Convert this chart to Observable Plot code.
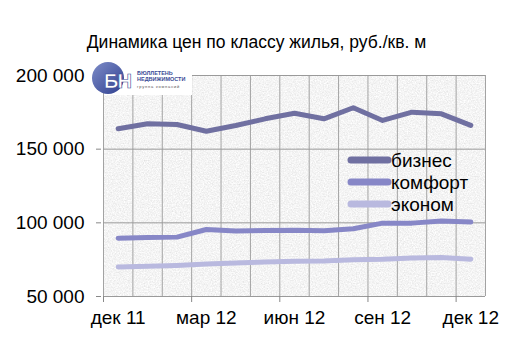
<!DOCTYPE html>
<html>
<head>
<meta charset="utf-8">
<script src="https://cdn.jsdelivr.net/npm/d3@7"></script>
<script src="https://cdn.jsdelivr.net/npm/@observablehq/plot@0.6"></script>
<style>
  html, body { margin: 0; padding: 0; background: #fff; }
  svg { display: block; }
</style>
</head>
<body>
<div id="chart"></div>
<script>
const title = "Динамика цен по классу жилья, руб./кв. м";
const months = ["дек 11","янв 12","фев 12","мар 12","апр 12","май 12","июн 12","июл 12","авг 12","сен 12","окт 12","ноя 12","дек 12"];
const labelledMonths = [0, 3, 6, 9, 12];
const seriesNames = ["бизнес", "комфорт", "эконом"];
const biznes  = [163800,167200,166700,162200,166100,170600,174400,170600,178100,169500,175100,174000,166100];
const komfort = [89600,90100,90300,95500,94400,94800,95000,94600,96000,99800,99800,101200,100500];
const ekonom  = [70000,70600,71100,72000,72700,73400,73900,74100,75000,75300,76200,76400,75300];
const yTicks = [50000, 100000, 150000, 200000];
const colors = ["#7070a1", "#8787c7", "#b9b9df"];

const seriesValues = [biznes, komfort, ekonom];
const data = seriesNames.flatMap((s, k) => seriesValues[k].map((v, i) => ({series: s, i, v})));
const bounds = months.map((_, i) => i - 0.5).concat([months.length - 0.5]);
const tickBounds = labelledMonths.map(i => i - 0.5);
const fmt = d => d3.format(",")(d).replace(/,/g, " ");
const font = "Liberation Sans, Arial, sans-serif";

const plot = Plot.plot({
  width: 510,
  height: 361,
  marginLeft: 103,
  marginRight: 25,
  marginTop: 75,
  marginBottom: 65,
  style: {fontFamily: font, color: "#000", background: "#fff"},
  x: {type: "linear", domain: [-0.5, months.length - 0.5]},
  y: {domain: [50000, 200000]},
  color: {domain: seriesNames, range: colors},
  marks: [
    Plot.frame({fill: "#e6e6e6", stroke: null}),
    Plot.gridX(bounds, {stroke: "#a3a3a3", strokeOpacity: 1}),
    Plot.gridY(yTicks, {stroke: "#9a9a9a", strokeOpacity: 1}),
    Plot.axisY({ticks: yTicks, tickSize: 5, tickPadding: 12, fontSize: 19, tickFormat: fmt, label: null, stroke: "#888", dx: -2}),
    Plot.axisX({ticks: tickBounds, tickSize: 6, tickFormat: () => "", label: null, stroke: "#888"}),
    Plot.axisX({ticks: labelledMonths, tickSize: 0, tickPadding: 14, fontSize: 19, tickFormat: i => months[i], label: null}),
    Plot.line(data, {x: "i", y: "v", z: "series", stroke: "series", strokeWidth: 5, strokeLinecap: "round", strokeLinejoin: "round"}),
    Plot.text([title], {frameAnchor: "top", dx: -38, dy: -40, fontSize: 17.5, fill: "#000"})
  ]
});

const ns = "http://www.w3.org/2000/svg";
const el = (tag, attrs, parent) => {
  const e = document.createElementNS(ns, tag);
  for (const k in attrs) e.setAttribute(k, attrs[k]);
  parent.appendChild(e);
  return e;
};

// granite texture filter
const defs = el("defs", {}, plot);
plot.insertBefore(defs, plot.firstChild);
const flt = el("filter", {id: "granite", x: "0", y: "0", width: "100%", height: "100%"}, defs);
el("feTurbulence", {type: "fractalNoise", baseFrequency: "0.75", numOctaves: "3", seed: "7", result: "n"}, flt);
el("feColorMatrix", {in: "n", type: "matrix", values: "0.35 0 0 0 0.73  0.35 0 0 0 0.73  0.35 0 0 0 0.73  0 0 0 0 1", result: "g"}, flt);
el("feComposite", {in: "g", in2: "SourceGraphic", operator: "in"}, flt);
const frame = plot.querySelector('[aria-label="frame"]');
if (frame) {
  const r = frame.tagName === "rect" ? frame : frame.querySelector("rect");
  if (r) r.setAttribute("filter", "url(#granite)");
}

// legend
const lg = el("g", {"font-family": font, "font-size": 19, "text-anchor": "start"}, plot);
seriesNames.forEach((s, k) => {
  const y = 160 + k * 22;
  el("line", {x1: 351, x2: 388, y1: y, y2: y, stroke: colors[k], "stroke-width": 7, "stroke-linecap": "round"}, lg);
  const t = el("text", {x: 391, y: y, dy: "0.35em", fill: "#000"}, lg);
  t.textContent = s;
});

// logo
const logo = el("g", {"text-anchor": "start"}, plot);
const lgd = el("linearGradient", {id: "bnGrad", x1: "0", y1: "0", x2: "1", y2: "1"}, defs);
el("stop", {offset: "0", "stop-color": "#7d8cc8"}, lgd);
el("stop", {offset: "1", "stop-color": "#2f3f8f"}, lgd);
el("rect", {x: 104, y: 66, width: 88, height: 29, fill: "#fff"}, logo);
el("circle", {cx: 108, cy: 78, r: 16, fill: "url(#bnGrad)"}, logo);
const bn = el("text", {x: 104, y: 88, "font-family": font, "font-weight": "bold", "font-size": 20, fill: "#fff", stroke: "#3a4a96", "stroke-width": 0.6, "letter-spacing": "-1"}, logo);
bn.textContent = "БН";
const t1 = el("text", {x: 137, y: 75, "font-family": font, "font-weight": "bold", "font-size": 5.5, fill: "#3a4a96"}, logo);
t1.textContent = "БЮЛЛЕТЕНЬ";
const t2 = el("text", {x: 137, y: 81, "font-family": font, "font-weight": "bold", "font-size": 5.5, fill: "#3a4a96"}, logo);
t2.textContent = "НЕДВИЖИМОСТИ";
const t3 = el("text", {x: 137, y: 88, "font-family": font, "font-size": 4, fill: "#555", "letter-spacing": "0.8"}, logo);
t3.textContent = "группа компаний";

document.getElementById("chart").appendChild(plot);
</script>
</body>
</html>
